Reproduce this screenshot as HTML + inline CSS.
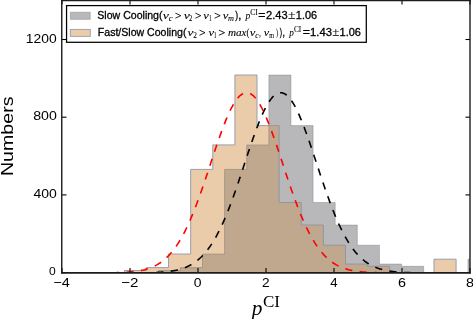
<!DOCTYPE html>
<html><head><meta charset="utf-8"><style>
html,body{margin:0;padding:0;background:#fff;}
body{width:473px;height:319px;overflow:hidden;position:relative;}
svg{position:absolute;left:0;top:0;will-change:transform;}
</style></head><body>
<svg width="473" height="319" viewBox="0 0 473 319">
<defs><clipPath id="tc"><path d="M124.30,272.60 L124.30,270.50 L146.42,270.50 L146.42,267.60 L168.54,267.60 L168.54,254.00 L190.66,254.00 L190.66,169.40 L212.78,169.40 L212.78,144.90 L234.90,144.90 L234.90,75.00 L257.02,75.00 L257.02,125.60 L279.14,125.60 L279.14,202.50 L301.26,202.50 L301.26,225.00 L323.38,225.00 L323.38,245.20 L345.50,245.20 L345.50,264.00 L367.62,264.00 L367.62,266.30 L389.74,266.30 L389.74,272.60 L411.86,272.60 L411.86,272.60 L433.98,272.60 L433.98,259.20 L456.10,259.20 L456.10,272.60 Z"/></clipPath><clipPath id="ax"><rect x="62" y="0" width="408" height="272.6"/></clipPath></defs>
<g clip-path="url(#ax)">
<path d="M124.30,272.60 L124.30,270.50 L146.42,270.50 L146.42,267.60 L168.54,267.60 L168.54,254.00 L190.66,254.00 L190.66,169.40 L212.78,169.40 L212.78,144.90 L234.90,144.90 L234.90,75.00 L257.02,75.00 L257.02,125.60 L279.14,125.60 L279.14,202.50 L301.26,202.50 L301.26,225.00 L323.38,225.00 L323.38,245.20 L345.50,245.20 L345.50,264.00 L367.62,264.00 L367.62,266.30 L389.74,266.30 L389.74,272.60 L411.86,272.60 L411.86,272.60 L433.98,272.60 L433.98,259.20 L456.10,259.20 L456.10,272.60 Z" fill="rgb(234,204,170)"/>
<path d="M158.25,272.60 L158.25,270.50 L180.37,270.50 L180.37,267.60 L202.49,267.60 L202.49,254.00 L224.61,254.00 L224.61,169.40 L246.73,169.40 L246.73,144.90 L268.85,144.90 L268.85,75.00 L290.97,75.00 L290.97,125.60 L313.09,125.60 L313.09,202.50 L335.21,202.50 L335.21,225.00 L357.33,225.00 L357.33,245.20 L379.45,245.20 L379.45,264.00 L401.57,264.00 L401.57,266.30 L423.69,266.30 L423.69,272.60 L445.81,272.60 L445.81,272.60 L467.93,272.60 L467.93,259.20 L490.05,259.20 L490.05,272.60 Z" fill="rgb(184,184,186)"/>
<path d="M158.25,272.60 L158.25,270.50 L180.37,270.50 L180.37,267.60 L202.49,267.60 L202.49,254.00 L224.61,254.00 L224.61,169.40 L246.73,169.40 L246.73,144.90 L268.85,144.90 L268.85,75.00 L290.97,75.00 L290.97,125.60 L313.09,125.60 L313.09,202.50 L335.21,202.50 L335.21,225.00 L357.33,225.00 L357.33,245.20 L379.45,245.20 L379.45,264.00 L401.57,264.00 L401.57,266.30 L423.69,266.30 L423.69,272.60 L445.81,272.60 L445.81,272.60 L467.93,272.60 L467.93,259.20 L490.05,259.20 L490.05,272.60 Z" fill="rgb(191,168,142)" clip-path="url(#tc)"/>
<path d="M124.30,272.60 L124.30,270.50 L146.42,270.50 L146.42,267.60 L168.54,267.60 L168.54,254.00 L190.66,254.00 L190.66,169.40 L212.78,169.40 L212.78,144.90 L234.90,144.90 L234.90,75.00 L257.02,75.00 L257.02,125.60 L279.14,125.60 L279.14,202.50 L301.26,202.50 L301.26,225.00 L323.38,225.00 L323.38,245.20 L345.50,245.20 L345.50,264.00 L367.62,264.00 L367.62,266.30 L389.74,266.30 L389.74,272.60 L411.86,272.60 L411.86,272.60 L433.98,272.60 L433.98,259.20 L456.10,259.20 L456.10,272.60" fill="none" stroke="rgba(140,146,162,0.85)" stroke-width="1.0"/>
<path d="M158.25,272.60 L158.25,270.50 L180.37,270.50 L180.37,267.60 L202.49,267.60 L202.49,254.00 L224.61,254.00 L224.61,169.40 L246.73,169.40 L246.73,144.90 L268.85,144.90 L268.85,75.00 L290.97,75.00 L290.97,125.60 L313.09,125.60 L313.09,202.50 L335.21,202.50 L335.21,225.00 L357.33,225.00 L357.33,245.20 L379.45,245.20 L379.45,264.00 L401.57,264.00 L401.57,266.30 L423.69,266.30 L423.69,272.60 L445.81,272.60 L445.81,272.60 L467.93,272.60 L467.93,259.20 L490.05,259.20 L490.05,272.60" fill="none" stroke="rgba(90,90,95,0.3)" stroke-width="1.0"/>
<path d="M62.00,272.95 L63.02,272.95 L64.04,272.95 L65.06,272.95 L66.08,272.95 L67.10,272.95 L68.12,272.95 L69.14,272.95 L70.16,272.95 L71.18,272.95 L72.20,272.95 L73.22,272.95 L74.24,272.95 L75.26,272.95 L76.28,272.95 L77.30,272.95 L78.32,272.95 L79.34,272.95 L80.36,272.95 L81.38,272.95 L82.40,272.94 L83.42,272.94 L84.44,272.94 L85.46,272.94 L86.48,272.94 L87.50,272.94 L88.52,272.94 L89.54,272.94 L90.56,272.93 L91.58,272.93 L92.60,272.93 L93.62,272.93 L94.64,272.93 L95.66,272.92 L96.68,272.92 L97.70,272.91 L98.72,272.91 L99.74,272.91 L100.76,272.90 L101.78,272.89 L102.80,272.89 L103.82,272.88 L104.84,272.87 L105.86,272.86 L106.88,272.85 L107.90,272.84 L108.92,272.83 L109.94,272.81 L110.96,272.80 L111.98,272.78 L113.00,272.76 L114.02,272.74 L115.04,272.72 L116.06,272.70 L117.08,272.67 L118.10,272.64 L119.12,272.60 L120.14,272.57 L121.16,272.53 L122.18,272.49 L123.20,272.44 L124.22,272.39 L125.24,272.33 L126.26,272.27 L127.28,272.20 L128.30,272.13 L129.32,272.05 L130.34,271.96 L131.36,271.87 L132.38,271.76 L133.40,271.65 L134.42,271.53 L135.44,271.40 L136.46,271.26 L137.48,271.11 L138.50,270.95 L139.52,270.77 L140.54,270.58 L141.56,270.38 L142.58,270.16 L143.60,269.92 L144.62,269.67 L145.64,269.39 L146.66,269.10 L147.68,268.79 L148.70,268.45 L149.72,268.10 L150.74,267.71 L151.76,267.31 L152.78,266.87 L153.80,266.41 L154.82,265.92 L155.84,265.40 L156.86,264.84 L157.88,264.25 L158.90,263.63 L159.92,262.97 L160.94,262.27 L161.96,261.53 L162.98,260.75 L164.00,259.93 L165.02,259.06 L166.04,258.15 L167.06,257.19 L168.08,256.18 L169.10,255.12 L170.12,254.00 L171.14,252.84 L172.16,251.62 L173.18,250.35 L174.20,249.01 L175.22,247.62 L176.24,246.17 L177.26,244.66 L178.28,243.09 L179.30,241.46 L180.32,239.76 L181.34,238.00 L182.36,236.18 L183.38,234.29 L184.40,232.34 L185.42,230.32 L186.44,228.24 L187.46,226.09 L188.48,223.89 L189.50,221.61 L190.52,219.28 L191.54,216.89 L192.56,214.43 L193.58,211.92 L194.60,209.35 L195.62,206.72 L196.64,204.04 L197.66,201.31 L198.68,198.54 L199.70,195.71 L200.72,192.85 L201.74,189.94 L202.76,187.00 L203.78,184.02 L204.80,181.01 L205.82,177.98 L206.84,174.93 L207.86,171.86 L208.88,168.78 L209.90,165.69 L210.92,162.59 L211.94,159.50 L212.96,156.41 L213.98,153.34 L215.00,150.28 L216.02,147.25 L217.04,144.24 L218.06,141.27 L219.08,138.34 L220.10,135.45 L221.12,132.61 L222.14,129.83 L223.16,127.11 L224.18,124.46 L225.20,121.88 L226.22,119.38 L227.24,116.96 L228.26,114.64 L229.28,112.40 L230.30,110.26 L231.32,108.23 L232.34,106.31 L233.36,104.50 L234.38,102.80 L235.40,101.23 L236.42,99.78 L237.44,98.45 L238.46,97.26 L239.48,96.20 L240.50,95.28 L241.52,94.50 L242.54,93.85 L243.56,93.35 L244.58,92.99 L245.60,92.77 L246.62,92.70 L247.64,92.77 L248.66,92.99 L249.68,93.35 L250.70,93.85 L251.72,94.50 L252.74,95.28 L253.76,96.20 L254.78,97.26 L255.80,98.45 L256.82,99.78 L257.84,101.23 L258.86,102.80 L259.88,104.50 L260.90,106.31 L261.92,108.23 L262.94,110.26 L263.96,112.40 L264.98,114.64 L266.00,116.96 L267.02,119.38 L268.04,121.88 L269.06,124.46 L270.08,127.11 L271.10,129.83 L272.12,132.61 L273.14,135.45 L274.16,138.34 L275.18,141.27 L276.20,144.24 L277.22,147.25 L278.24,150.28 L279.26,153.34 L280.28,156.41 L281.30,159.50 L282.32,162.59 L283.34,165.69 L284.36,168.78 L285.38,171.86 L286.40,174.93 L287.42,177.98 L288.44,181.01 L289.46,184.02 L290.48,187.00 L291.50,189.94 L292.52,192.85 L293.54,195.71 L294.56,198.54 L295.58,201.31 L296.60,204.04 L297.62,206.72 L298.64,209.35 L299.66,211.92 L300.68,214.43 L301.70,216.89 L302.72,219.28 L303.74,221.61 L304.76,223.89 L305.78,226.09 L306.80,228.24 L307.82,230.32 L308.84,232.34 L309.86,234.29 L310.88,236.18 L311.90,238.00 L312.92,239.76 L313.94,241.46 L314.96,243.09 L315.98,244.66 L317.00,246.17 L318.02,247.62 L319.04,249.01 L320.06,250.35 L321.08,251.62 L322.10,252.84 L323.12,254.00 L324.14,255.12 L325.16,256.18 L326.18,257.19 L327.20,258.15 L328.22,259.06 L329.24,259.93 L330.26,260.75 L331.28,261.53 L332.30,262.27 L333.32,262.97 L334.34,263.63 L335.36,264.25 L336.38,264.84 L337.40,265.40 L338.42,265.92 L339.44,266.41 L340.46,266.87 L341.48,267.31 L342.50,267.71 L343.52,268.10 L344.54,268.45 L345.56,268.79 L346.58,269.10 L347.60,269.39 L348.62,269.67 L349.64,269.92 L350.66,270.16 L351.68,270.38 L352.70,270.58 L353.72,270.77 L354.74,270.95 L355.76,271.11 L356.78,271.26 L357.80,271.40 L358.82,271.53 L359.84,271.65 L360.86,271.76 L361.88,271.87 L362.90,271.96 L363.92,272.05 L364.94,272.13 L365.96,272.20 L366.98,272.27 L368.00,272.33 L369.02,272.39 L370.04,272.44 L371.06,272.49 L372.08,272.53 L373.10,272.57 L374.12,272.60 L375.14,272.64 L376.16,272.67 L377.18,272.70 L378.20,272.72 L379.22,272.74 L380.24,272.76 L381.26,272.78 L382.28,272.80 L383.30,272.81 L384.32,272.83 L385.34,272.84 L386.36,272.85 L387.38,272.86 L388.40,272.87 L389.42,272.88 L390.44,272.89 L391.46,272.89 L392.48,272.90 L393.50,272.91 L394.52,272.91 L395.54,272.91 L396.56,272.92 L397.58,272.92 L398.60,272.93 L399.62,272.93 L400.64,272.93 L401.66,272.93 L402.68,272.93 L403.70,272.94 L404.72,272.94 L405.74,272.94 L406.76,272.94 L407.78,272.94 L408.80,272.94 L409.82,272.94 L410.84,272.94 L411.86,272.95 L412.88,272.95 L413.90,272.95 L414.92,272.95 L415.94,272.95 L416.96,272.95 L417.98,272.95 L419.00,272.95 L420.02,272.95 L421.04,272.95 L422.06,272.95 L423.08,272.95 L424.10,272.95 L425.12,272.95 L426.14,272.95 L427.16,272.95 L428.18,272.95 L429.20,272.95 L430.22,272.95 L431.24,272.95 L432.26,272.95 L433.28,272.95 L434.30,272.95 L435.32,272.95 L436.34,272.95 L437.36,272.95 L438.38,272.95 L439.40,272.95 L440.42,272.95 L441.44,272.95 L442.46,272.95 L443.48,272.95 L444.50,272.95 L445.52,272.95 L446.54,272.95 L447.56,272.95 L448.58,272.95 L449.60,272.95 L450.62,272.95 L451.64,272.95 L452.66,272.95 L453.68,272.95 L454.70,272.95 L455.72,272.95 L456.74,272.95 L457.76,272.95 L458.78,272.95 L459.80,272.95 L460.82,272.95 L461.84,272.95 L462.86,272.95 L463.88,272.95 L464.90,272.95 L465.92,272.95 L466.94,272.95 L467.96,272.95 L468.98,272.95 L470.00,272.95" fill="none" stroke="#f00" stroke-width="1.6" stroke-dasharray="7.3 7.33" stroke-dashoffset="8.75"/>
<path d="M62.00,272.95 L63.02,272.95 L64.04,272.95 L65.06,272.95 L66.08,272.95 L67.10,272.95 L68.12,272.95 L69.14,272.95 L70.16,272.95 L71.18,272.95 L72.20,272.95 L73.22,272.95 L74.24,272.95 L75.26,272.95 L76.28,272.95 L77.30,272.95 L78.32,272.95 L79.34,272.95 L80.36,272.95 L81.38,272.95 L82.40,272.95 L83.42,272.95 L84.44,272.95 L85.46,272.95 L86.48,272.95 L87.50,272.95 L88.52,272.95 L89.54,272.95 L90.56,272.95 L91.58,272.95 L92.60,272.95 L93.62,272.95 L94.64,272.95 L95.66,272.95 L96.68,272.95 L97.70,272.95 L98.72,272.95 L99.74,272.95 L100.76,272.95 L101.78,272.95 L102.80,272.95 L103.82,272.95 L104.84,272.95 L105.86,272.95 L106.88,272.95 L107.90,272.95 L108.92,272.95 L109.94,272.95 L110.96,272.95 L111.98,272.95 L113.00,272.95 L114.02,272.95 L115.04,272.95 L116.06,272.94 L117.08,272.94 L118.10,272.94 L119.12,272.94 L120.14,272.94 L121.16,272.94 L122.18,272.94 L123.20,272.94 L124.22,272.94 L125.24,272.93 L126.26,272.93 L127.28,272.93 L128.30,272.93 L129.32,272.92 L130.34,272.92 L131.36,272.92 L132.38,272.91 L133.40,272.91 L134.42,272.90 L135.44,272.90 L136.46,272.89 L137.48,272.88 L138.50,272.87 L139.52,272.87 L140.54,272.86 L141.56,272.84 L142.58,272.83 L143.60,272.82 L144.62,272.80 L145.64,272.79 L146.66,272.77 L147.68,272.75 L148.70,272.73 L149.72,272.70 L150.74,272.68 L151.76,272.65 L152.78,272.62 L153.80,272.58 L154.82,272.54 L155.84,272.50 L156.86,272.45 L157.88,272.40 L158.90,272.35 L159.92,272.29 L160.94,272.22 L161.96,272.15 L162.98,272.07 L164.00,271.99 L165.02,271.90 L166.04,271.80 L167.06,271.69 L168.08,271.57 L169.10,271.45 L170.12,271.31 L171.14,271.16 L172.16,271.00 L173.18,270.83 L174.20,270.65 L175.22,270.45 L176.24,270.23 L177.26,270.00 L178.28,269.75 L179.30,269.49 L180.32,269.20 L181.34,268.89 L182.36,268.57 L183.38,268.22 L184.40,267.84 L185.42,267.45 L186.44,267.02 L187.46,266.57 L188.48,266.09 L189.50,265.57 L190.52,265.03 L191.54,264.45 L192.56,263.84 L193.58,263.19 L194.60,262.51 L195.62,261.78 L196.64,261.02 L197.66,260.21 L198.68,259.35 L199.70,258.46 L200.72,257.51 L201.74,256.52 L202.76,255.48 L203.78,254.38 L204.80,253.23 L205.82,252.03 L206.84,250.78 L207.86,249.46 L208.88,248.09 L209.90,246.66 L210.92,245.17 L211.94,243.62 L212.96,242.01 L213.98,240.33 L215.00,238.59 L216.02,236.79 L217.04,234.93 L218.06,232.99 L219.08,231.00 L220.10,228.94 L221.12,226.82 L222.14,224.63 L223.16,222.38 L224.18,220.07 L225.20,217.69 L226.22,215.26 L227.24,212.76 L228.26,210.21 L229.28,207.60 L230.30,204.94 L231.32,202.23 L232.34,199.47 L233.36,196.66 L234.38,193.81 L235.40,190.91 L236.42,187.98 L237.44,185.01 L238.46,182.02 L239.48,178.99 L240.50,175.95 L241.52,172.88 L242.54,169.80 L243.56,166.72 L244.58,163.62 L245.60,160.53 L246.62,157.44 L247.64,154.36 L248.66,151.30 L249.68,148.26 L250.70,145.24 L251.72,142.26 L252.74,139.31 L253.76,136.41 L254.78,133.55 L255.80,130.75 L256.82,128.01 L257.84,125.34 L258.86,122.73 L259.88,120.21 L260.90,117.76 L261.92,115.40 L262.94,113.13 L263.96,110.97 L264.98,108.90 L266.00,106.94 L267.02,105.09 L268.04,103.35 L269.06,101.74 L270.08,100.25 L271.10,98.88 L272.12,97.64 L273.14,96.54 L274.16,95.57 L275.18,94.74 L276.20,94.05 L277.22,93.50 L278.24,93.09 L279.26,92.83 L280.28,92.71 L281.30,92.73 L282.32,92.90 L283.34,93.21 L284.36,93.67 L285.38,94.27 L286.40,95.00 L287.42,95.88 L288.44,96.89 L289.46,98.04 L290.48,99.32 L291.50,100.73 L292.52,102.26 L293.54,103.92 L294.56,105.69 L295.58,107.58 L296.60,109.58 L297.62,111.68 L298.64,113.88 L299.66,116.18 L300.68,118.57 L301.70,121.04 L302.72,123.59 L303.74,126.22 L304.76,128.92 L305.78,131.68 L306.80,134.50 L307.82,137.37 L308.84,140.29 L309.86,143.25 L310.88,146.24 L311.90,149.27 L312.92,152.32 L313.94,155.39 L314.96,158.47 L315.98,161.56 L317.00,164.65 L318.02,167.75 L319.04,170.83 L320.06,173.91 L321.08,176.97 L322.10,180.00 L323.12,183.02 L324.14,186.01 L325.16,188.96 L326.18,191.88 L327.20,194.76 L328.22,197.60 L329.24,200.39 L330.26,203.14 L331.28,205.84 L332.30,208.48 L333.32,211.07 L334.34,213.60 L335.36,216.07 L336.38,218.49 L337.40,220.84 L338.42,223.14 L339.44,225.37 L340.46,227.53 L341.48,229.63 L342.50,231.67 L343.52,233.65 L344.54,235.55 L345.56,237.40 L346.58,239.18 L347.60,240.90 L348.62,242.55 L349.64,244.14 L350.66,245.68 L351.68,247.15 L352.70,248.56 L353.72,249.91 L354.74,251.20 L355.76,252.44 L356.78,253.62 L357.80,254.75 L358.82,255.83 L359.84,256.86 L360.86,257.83 L361.88,258.76 L362.90,259.64 L363.92,260.48 L364.94,261.28 L365.96,262.03 L366.98,262.74 L368.00,263.41 L369.02,264.05 L370.04,264.65 L371.06,265.22 L372.08,265.75 L373.10,266.25 L374.12,266.72 L375.14,267.17 L376.16,267.58 L377.18,267.97 L378.20,268.34 L379.22,268.68 L380.24,269.00 L381.26,269.30 L382.28,269.58 L383.30,269.84 L384.32,270.08 L385.34,270.30 L386.36,270.51 L387.38,270.71 L388.40,270.89 L389.42,271.06 L390.44,271.21 L391.46,271.36 L392.48,271.49 L393.50,271.61 L394.52,271.73 L395.54,271.83 L396.56,271.93 L397.58,272.02 L398.60,272.10 L399.62,272.18 L400.64,272.25 L401.66,272.31 L402.68,272.37 L403.70,272.42 L404.72,272.47 L405.74,272.51 L406.76,272.56 L407.78,272.59 L408.80,272.63 L409.82,272.66 L410.84,272.69 L411.86,272.71 L412.88,272.74 L413.90,272.76 L414.92,272.78 L415.94,272.79 L416.96,272.81 L417.98,272.82 L419.00,272.84 L420.02,272.85 L421.04,272.86 L422.06,272.87 L423.08,272.88 L424.10,272.88 L425.12,272.89 L426.14,272.90 L427.16,272.90 L428.18,272.91 L429.20,272.91 L430.22,272.92 L431.24,272.92 L432.26,272.92 L433.28,272.93 L434.30,272.93 L435.32,272.93 L436.34,272.93 L437.36,272.94 L438.38,272.94 L439.40,272.94 L440.42,272.94 L441.44,272.94 L442.46,272.94 L443.48,272.94 L444.50,272.94 L445.52,272.94 L446.54,272.95 L447.56,272.95 L448.58,272.95 L449.60,272.95 L450.62,272.95 L451.64,272.95 L452.66,272.95 L453.68,272.95 L454.70,272.95 L455.72,272.95 L456.74,272.95 L457.76,272.95 L458.78,272.95 L459.80,272.95 L460.82,272.95 L461.84,272.95 L462.86,272.95 L463.88,272.95 L464.90,272.95 L465.92,272.95 L466.94,272.95 L467.96,272.95 L468.98,272.95 L470.00,272.95" fill="none" stroke="#000" stroke-width="1.6" stroke-dasharray="7.3 7.33" stroke-dashoffset="8.28"/>
</g>
<g stroke="#000" stroke-width="1.1">
<line x1="62.00" y1="272.60" x2="62.00" y2="268.10"/>
<line x1="62.00" y1="0" x2="62.00" y2="4.5"/>
<line x1="130.00" y1="272.60" x2="130.00" y2="268.10"/>
<line x1="130.00" y1="0" x2="130.00" y2="4.5"/>
<line x1="198.00" y1="272.60" x2="198.00" y2="268.10"/>
<line x1="198.00" y1="0" x2="198.00" y2="4.5"/>
<line x1="266.00" y1="272.60" x2="266.00" y2="268.10"/>
<line x1="266.00" y1="0" x2="266.00" y2="4.5"/>
<line x1="334.00" y1="272.60" x2="334.00" y2="268.10"/>
<line x1="334.00" y1="0" x2="334.00" y2="4.5"/>
<line x1="402.00" y1="272.60" x2="402.00" y2="268.10"/>
<line x1="402.00" y1="0" x2="402.00" y2="4.5"/>
<line x1="470.00" y1="272.60" x2="470.00" y2="268.10"/>
<line x1="470.00" y1="0" x2="470.00" y2="4.5"/>
<line x1="62" y1="272.60" x2="66.5" y2="272.60"/>
<line x1="470" y1="272.60" x2="465.5" y2="272.60"/>
<line x1="62" y1="194.90" x2="66.5" y2="194.90"/>
<line x1="470" y1="194.90" x2="465.5" y2="194.90"/>
<line x1="62" y1="117.20" x2="66.5" y2="117.20"/>
<line x1="470" y1="117.20" x2="465.5" y2="117.20"/>
<line x1="62" y1="39.50" x2="66.5" y2="39.50"/>
<line x1="470" y1="39.50" x2="465.5" y2="39.50"/>
</g>
<g stroke="#1c1c1c" fill="none"><line x1="61.75" y1="0" x2="61.75" y2="273.6" stroke-width="1.4"/><line x1="470.0" y1="0" x2="470.0" y2="273.6" stroke-width="1.4"/><line x1="61" y1="0.6" x2="470.7" y2="0.6" stroke-width="1.3"/><line x1="61" y1="272.85" x2="470.7" y2="272.85" stroke-width="1.65"/></g>
<rect x="66.55" y="5.6" width="299.75" height="36.7" fill="#fff" stroke="#000" stroke-width="1.25"/>
<rect x="70.3" y="12.2" width="20" height="7.2" fill="rgb(184,184,186)" stroke="rgba(90,90,95,0.3)" stroke-width="0.9"/>
<rect x="70.3" y="29.4" width="20" height="7" fill="rgb(234,204,170)" stroke="rgba(140,146,162,0.85)" stroke-width="0.9"/>
<text x="97.32" y="18.90" font-family="Liberation Sans" font-size="10.00" textLength="65.19" lengthAdjust="spacingAndGlyphs" stroke="#000" stroke-width="0.28">Slow Cooling(</text>
<text x="162.70" y="18.90" font-family="Liberation Serif" font-style="italic" font-size="10.50" textLength="6.20" lengthAdjust="spacingAndGlyphs" stroke="#000" stroke-width="0.08">ν</text>
<text x="168.72" y="21.30" font-family="Liberation Serif" font-style="italic" font-size="7.60" textLength="3.83" lengthAdjust="spacingAndGlyphs" stroke="#000" stroke-width="0.08">c</text>
<text x="183.80" y="18.90" font-family="Liberation Serif" font-style="italic" font-size="10.50" textLength="6.10" lengthAdjust="spacingAndGlyphs" stroke="#000" stroke-width="0.08">ν</text>
<text x="189.08" y="21.30" font-family="Liberation Serif" font-size="7.60" textLength="3.27" lengthAdjust="spacingAndGlyphs" stroke="#000" stroke-width="0.08">2</text>
<text x="203.30" y="18.90" font-family="Liberation Serif" font-style="italic" font-size="10.50" textLength="5.61" lengthAdjust="spacingAndGlyphs" stroke="#000" stroke-width="0.08">ν</text>
<text x="208.95" y="21.30" font-family="Liberation Serif" font-size="7.60" textLength="2.66" lengthAdjust="spacingAndGlyphs" stroke="#000" stroke-width="0.08">1</text>
<text x="222.80" y="18.90" font-family="Liberation Serif" font-style="italic" font-size="10.50" textLength="5.61" lengthAdjust="spacingAndGlyphs" stroke="#000" stroke-width="0.08">ν</text>
<text x="228.13" y="21.30" font-family="Liberation Serif" font-style="italic" font-size="7.60" textLength="5.92" lengthAdjust="spacingAndGlyphs" stroke="#000" stroke-width="0.08">m</text>
<text x="235.20" y="18.90" font-family="Liberation Sans" font-size="10.00" textLength="2.92" lengthAdjust="spacingAndGlyphs" stroke="#000" stroke-width="0.28">)</text>
<text x="238.16" y="18.90" font-family="Liberation Sans" font-size="10.00" textLength="3.12" lengthAdjust="spacingAndGlyphs" stroke="#000" stroke-width="0.28">,</text>
<text x="245.48" y="18.90" font-family="Liberation Serif" font-style="italic" font-size="10.50" textLength="4.75" lengthAdjust="spacingAndGlyphs" stroke="#000" stroke-width="0.08">p</text>
<text x="250.26" y="14.70" font-family="Liberation Serif" font-size="7.60" textLength="7.44" lengthAdjust="spacingAndGlyphs" stroke="#000" stroke-width="0.08">CI</text>
<text x="258.38" y="18.90" font-family="Liberation Sans" font-size="10.00" textLength="7.25" lengthAdjust="spacingAndGlyphs" stroke="#000" stroke-width="0.28">=</text>
<text x="266.05" y="18.90" font-family="Liberation Sans" font-size="10.00" textLength="21.57" lengthAdjust="spacingAndGlyphs" stroke="#000" stroke-width="0.28">2.43</text>
<text x="288.03" y="18.90" font-family="Liberation Serif" font-size="12.00" textLength="7.57" lengthAdjust="spacingAndGlyphs" stroke="#000" stroke-width="0.08">±</text>
<text x="295.88" y="18.90" font-family="Liberation Sans" font-size="10.00" textLength="21.23" lengthAdjust="spacingAndGlyphs" stroke="#000" stroke-width="0.28">1.06</text>
<text x="97.81" y="35.95" font-family="Liberation Sans" font-size="10.00" textLength="88.67" lengthAdjust="spacingAndGlyphs" stroke="#000" stroke-width="0.28">Fast/Slow Cooling(</text>
<text x="187.50" y="35.95" font-family="Liberation Serif" font-style="italic" font-size="10.50" textLength="5.90" lengthAdjust="spacingAndGlyphs" stroke="#000" stroke-width="0.08">ν</text>
<text x="193.36" y="38.35" font-family="Liberation Serif" font-size="7.60" textLength="3.62" lengthAdjust="spacingAndGlyphs" stroke="#000" stroke-width="0.08">2</text>
<text x="208.50" y="35.95" font-family="Liberation Serif" font-style="italic" font-size="10.50" textLength="5.61" lengthAdjust="spacingAndGlyphs" stroke="#000" stroke-width="0.08">ν</text>
<text x="213.73" y="38.35" font-family="Liberation Serif" font-size="7.60" textLength="2.78" lengthAdjust="spacingAndGlyphs" stroke="#000" stroke-width="0.08">1</text>
<text x="227.93" y="35.95" font-family="Liberation Serif" font-style="italic" font-size="10.50" textLength="18.67" lengthAdjust="spacingAndGlyphs" stroke="#000" stroke-width="0.08">max</text>
<text x="246.38" y="35.95" font-family="Liberation Serif" font-size="10.50" textLength="2.93" lengthAdjust="spacingAndGlyphs" stroke="#000" stroke-width="0.08">(</text>
<text x="249.70" y="35.95" font-family="Liberation Serif" font-style="italic" font-size="10.50" textLength="5.61" lengthAdjust="spacingAndGlyphs" stroke="#000" stroke-width="0.08">ν</text>
<text x="255.15" y="38.35" font-family="Liberation Serif" font-style="italic" font-size="7.60" textLength="3.37" lengthAdjust="spacingAndGlyphs" stroke="#000" stroke-width="0.08">c</text>
<text x="259.01" y="35.95" font-family="Liberation Serif" font-size="10.50" textLength="1.95" lengthAdjust="spacingAndGlyphs" stroke="#000" stroke-width="0.08">,</text>
<text x="263.80" y="35.95" font-family="Liberation Serif" font-style="italic" font-size="10.50" textLength="5.41" lengthAdjust="spacingAndGlyphs" stroke="#000" stroke-width="0.08">ν</text>
<text x="269.30" y="38.35" font-family="Liberation Serif" font-size="7.60" textLength="4.84" lengthAdjust="spacingAndGlyphs" stroke="#000" stroke-width="0.08">m</text>
<text x="276.05" y="35.95" font-family="Liberation Serif" font-size="10.50" textLength="2.04" lengthAdjust="spacingAndGlyphs" stroke="#000" stroke-width="0.08">)</text>
<text x="279.70" y="35.95" font-family="Liberation Sans" font-size="10.00" textLength="2.31" lengthAdjust="spacingAndGlyphs" stroke="#000" stroke-width="0.28">)</text>
<text x="282.54" y="35.95" font-family="Liberation Sans" font-size="10.00" textLength="2.45" lengthAdjust="spacingAndGlyphs" stroke="#000" stroke-width="0.28">,</text>
<text x="289.15" y="35.95" font-family="Liberation Serif" font-style="italic" font-size="10.50" textLength="4.57" lengthAdjust="spacingAndGlyphs" stroke="#000" stroke-width="0.08">p</text>
<text x="293.96" y="31.75" font-family="Liberation Serif" font-size="7.60" textLength="7.33" lengthAdjust="spacingAndGlyphs" stroke="#000" stroke-width="0.08">CI</text>
<text x="302.68" y="35.95" font-family="Liberation Sans" font-size="10.00" textLength="7.25" lengthAdjust="spacingAndGlyphs" stroke="#000" stroke-width="0.28">=</text>
<text x="310.06" y="35.95" font-family="Liberation Sans" font-size="10.00" textLength="21.87" lengthAdjust="spacingAndGlyphs" stroke="#000" stroke-width="0.28">1.43</text>
<text x="332.26" y="35.95" font-family="Liberation Serif" font-size="12.00" textLength="7.11" lengthAdjust="spacingAndGlyphs" stroke="#000" stroke-width="0.08">±</text>
<text x="339.58" y="35.95" font-family="Liberation Sans" font-size="10.00" textLength="21.34" lengthAdjust="spacingAndGlyphs" stroke="#000" stroke-width="0.28">1.06</text>
<text x="251.81" y="314.50" font-family="Liberation Serif" font-style="italic" font-size="22.00" textLength="10.67" lengthAdjust="spacingAndGlyphs">p</text>
<text x="262.95" y="307.10" font-family="Liberation Serif" font-size="16.90" textLength="17.00" lengthAdjust="spacingAndGlyphs">CI</text>
<text x="49.11" y="275.47" font-family="Liberation Sans" font-size="11.39" textLength="6.73" lengthAdjust="spacingAndGlyphs">0</text>
<text x="33.47" y="198.44" font-family="Liberation Sans" font-size="12.93" textLength="23.34" lengthAdjust="spacingAndGlyphs">400</text>
<text x="33.17" y="120.44" font-family="Liberation Sans" font-size="12.93" textLength="23.64" lengthAdjust="spacingAndGlyphs">800</text>
<text x="25.85" y="42.84" font-family="Liberation Sans" font-size="12.79" textLength="30.85" lengthAdjust="spacingAndGlyphs">1200</text>
<text x="53.41" y="287.20" font-family="Liberation Sans" font-size="13.31" textLength="16.52" lengthAdjust="spacingAndGlyphs">−4</text>
<text x="121.18" y="287.20" font-family="Liberation Sans" font-size="13.31" textLength="17.27" lengthAdjust="spacingAndGlyphs">−2</text>
<text x="193.83" y="287.13" font-family="Liberation Sans" font-size="13.21" textLength="7.76" lengthAdjust="spacingAndGlyphs">0</text>
<text x="262.14" y="287.20" font-family="Liberation Sans" font-size="13.31" textLength="7.62" lengthAdjust="spacingAndGlyphs">2</text>
<text x="330.23" y="287.20" font-family="Liberation Sans" font-size="13.31" textLength="7.34" lengthAdjust="spacingAndGlyphs">4</text>
<text x="397.92" y="287.13" font-family="Liberation Sans" font-size="13.21" textLength="7.97" lengthAdjust="spacingAndGlyphs">6</text>
<text x="466.12" y="287.13" font-family="Liberation Sans" font-size="13.21" textLength="7.97" lengthAdjust="spacingAndGlyphs">8</text>
<path d="M175.40,13.10 L180.80,15.65 L175.40,18.20" fill="none" stroke="#000" stroke-width="0.85" stroke-linejoin="miter"/>
<path d="M195.40,13.10 L200.80,15.65 L195.40,18.20" fill="none" stroke="#000" stroke-width="0.85" stroke-linejoin="miter"/>
<path d="M214.60,13.10 L220.20,15.65 L214.60,18.20" fill="none" stroke="#000" stroke-width="0.85" stroke-linejoin="miter"/>
<path d="M199.50,30.15 L205.00,32.70 L199.50,35.25" fill="none" stroke="#000" stroke-width="0.85" stroke-linejoin="miter"/>
<path d="M218.90,30.15 L224.60,32.70 L218.90,35.25" fill="none" stroke="#000" stroke-width="0.85" stroke-linejoin="miter"/>
<text transform="translate(13.40,176.04) rotate(-90)" font-family="Liberation Sans" font-size="17.00" textLength="79.57" lengthAdjust="spacingAndGlyphs">Numbers</text>
</svg>
</body></html>
